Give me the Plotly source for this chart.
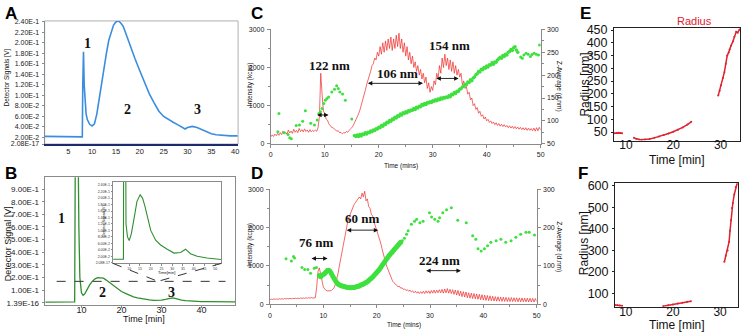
import numpy as np
import plotly.graph_objects as go

W, H = 746, 334
def px(x): return x / W
def py(y): return 1 - y / H

# ---------------- DATA ----------------
# Panel A (detector signal, blue)
A_time = [0.1, 1, 2, 3, 4, 5, 6, 7, 7.95, 8.05, 8.2, 8.35, 8.5, 8.75, 9, 9.5, 10, 10.5, 11, 11.5, 12, 12.5, 13,
          13.5, 14, 14.5, 15, 15.5, 16, 16.5, 17, 18, 19, 20, 21, 22, 23, 24, 25, 26, 27, 28, 29, 29.5, 30,
          31, 32, 33, 34, 35, 36, 37, 38, 39, 40.5]
A_signal = [0.022, 0.022, 0.021, 0.021, 0.021, 0.021, 0.021, 0.021, 0.021, 0.12, 0.183, 0.12, 0.088, 0.065,
            0.054, 0.045, 0.042, 0.046, 0.065, 0.095, 0.125, 0.153, 0.18, 0.205, 0.222, 0.234, 0.24, 0.242,
            0.238, 0.232, 0.22, 0.193, 0.17, 0.147, 0.125, 0.103, 0.086, 0.07, 0.06, 0.054, 0.049, 0.044,
            0.039, 0.036, 0.039, 0.041, 0.039, 0.035, 0.03, 0.027, 0.025, 0.024, 0.023, 0.023, 0.023]
A_ytickvals = [0.0075, 0.02, 0.04, 0.06, 0.08, 0.10, 0.12, 0.14, 0.16, 0.18, 0.20, 0.22, 0.24]
A_yticktext = ["2.08E-17", "2.00E-2", "4.00E-2", "6.00E-2", "8.00E-2", "1.00E-1", "1.20E-1", "1.40E-1",
               "1.60E-1", "1.80E-1", "2.00E-1", "2.20E-1", "2.40E-1"]

# Panel B (detector signal, green)
B_time = [1, 4, 7, 8.3, 8.45, 8.6, 9.2, 9.35, 9.6, 10, 10.4, 10.8, 11.3, 12, 12.7, 13.4, 14.1, 14.8, 15.5,
          16.2, 17, 18, 19, 20, 21, 22, 23, 24, 25, 26, 27, 28, 29, 30, 31, 32, 32.7, 33.4, 34, 35, 36, 37,
          38, 40, 42, 44, 46, 48.4]
B_signal = [0.006, 0.006, 0.007, 0.008, 1.1, 1.1, 1.1, 0.6, 0.2, 0.08, 0.06, 0.07, 0.1, 0.14, 0.17, 0.19,
            0.2, 0.2, 0.195, 0.18, 0.16, 0.135, 0.11, 0.09, 0.075, 0.06, 0.048, 0.04, 0.033, 0.027, 0.023,
            0.02, 0.02, 0.022, 0.028, 0.036, 0.04, 0.036, 0.03, 0.022, 0.017, 0.014, 0.012, 0.01, 0.009,
            0.008, 0.008, 0.008]
B_ytickvals = [0, 0.1, 0.2, 0.3, 0.4, 0.5, 0.6, 0.7, 0.8, 0.9]
B_yticktext = ["1.39E-16", "1.00E-1", "2.00E-1", "3.00E-1", "4.00E-1", "5.00E-1", "6.00E-1", "7.00E-1",
               "8.00E-1", "9.00E-1"]

# Inset of B
I_time = [2.5, 5, 7.3, 7.4, 7.6, 8.4, 8.5, 9.2, 10, 11, 12.3, 13.6, 15.1, 16.2, 17.3, 18.5, 20, 22.3, 24.6,
          27.7, 30.8, 33.9, 36.2, 38.5, 41.6, 46.2, 51.5, 52.8]
I_signal = [0.011, 0.011, 0.011, 0.3, 0.3, 0.3, 0.12, 0.08, 0.069, 0.09, 0.139, 0.19, 0.21, 0.2, 0.175,
            0.145, 0.1, 0.07, 0.055, 0.042, 0.03, 0.032, 0.042, 0.028, 0.02, 0.015, 0.01, 0.01]
I_ytickvals = [0, 0.02, 0.04, 0.06, 0.08, 0.10, 0.12, 0.14, 0.16, 0.18, 0.20, 0.22, 0.24]
I_yticktext = ["2.08E-17", "2.00E-2", "4.00E-2", "6.00E-2", "8.00E-2", "1.00E-1", "1.20E-1", "1.40E-1",
               "1.60E-1", "1.80E-1", "2.00E-1", "2.20E-1", "2.40E-1"]

# Panel C: intensity (kcps) sampled every 0.25 min from 0 to 50
C_intensity = [
    180, 230, 190, 250, 210, 270, 220, 290, 240, 330, 260, 300, 250, 360, 280, 330,
    270, 380, 300, 350, 290, 400, 320, 370, 310, 390, 320, 360, 300, 370, 310, 350,
    320, 360, 330, 420, 700, 1850, 1300, 850, 800, 650, 620, 520, 480, 430, 420, 380,
    370, 330, 340, 290, 300, 260, 290, 280, 320, 300, 350, 380, 420, 470, 540, 600,
    700, 780, 880, 1000, 1100, 1250, 1400, 1550, 1650, 1800, 1900, 2050, 2100, 2250, 2200, 2400,
    2300, 2550, 2350, 2650, 2400, 2700, 2450, 2750, 2500, 2800, 2450, 2750, 2500, 2850, 2550, 2900,
    2500, 2750, 2400, 2650, 2300, 2550, 2200, 2400, 2100, 2300, 2000, 2150, 1900, 2050, 1800, 1950,
    1700, 1850, 1600, 1750, 1450, 1600, 1350, 1500, 1400, 1650, 1550, 1850, 1700, 2050, 1850, 2250,
    2000, 2350, 2050, 2250, 1950, 2200, 1900, 2150, 1850, 2050, 1800, 1950, 1750, 1850, 1550, 1650,
    1450, 1500, 1300, 1350, 1150, 1200, 1000, 1050, 900, 950, 800, 850, 720, 760, 650, 700,
    600, 640, 560, 600, 530, 570, 500, 550, 480, 530, 460, 510, 450, 500, 440, 480,
    420, 470, 410, 460, 400, 450, 390, 440, 380, 430, 370, 420, 360, 420, 350, 410,
    350, 400, 340, 410, 330, 420, 340, 430, 360]
C_time = np.arange(len(C_intensity)) * 0.25

# Panel C: Z-average (d.nm), scattered early points
C_z_early_t = [1.3, 1.5, 2.5, 3.2, 3.5, 3.8, 4.7, 5.3, 5.9, 6.4, 7.4, 8.1, 8.6, 8.9, 9.2, 9.5, 9.8, 10.1,
               10.4, 10.7, 11.3, 11.8, 12.2, 12.5, 12.8, 13.3, 13.8, 15.0]
C_z_early = [76, 116, 74, 70, 63, 61, 90, 91, 99, 122, 95, 91, 102, 116, 120, 127, 138, 145, 149, 152, 163,
             169, 177, 171, 163, 159, 145, 104]
# dense band every 0.25 min starting at 15.5
C_z_dense = [
    68, 66,
    69, 66, 70, 67, 71, 70, 74, 71, 75, 74, 78, 76, 80, 79, 83, 82,
    86, 85, 90, 88, 93, 92, 97, 96, 101, 99, 104, 103, 108, 106, 111, 110,
    115, 113, 118, 116, 120, 118, 122, 121, 124, 123, 127, 125, 130, 128, 132, 131,
    136, 134, 138, 136, 140, 139, 142, 140, 144, 143, 146, 144, 148, 146, 150, 148,
    151, 150, 152, 151, 155, 153, 158, 157, 162, 160, 165, 164, 169, 170, 174, 176,
    180, 179, 185, 184, 190, 188, 194, 196, 201, 203, 208, 207, 213, 212, 217, 215,
    220, 218, 223, 222, 227, 224, 229, 228, 233, 236, 239, 237, 243, 241, 246, 244,
    250, 252, 256, 254, 260, 262, 255, 250]
C_z_dense_t = 15.5 + np.arange(len(C_z_dense)) * 0.25
C_z_late_t = [46.3, 46.6, 46.9, 47.3, 47.7, 48.1, 48.4, 48.8, 49.2, 49.6, 49.8]
C_z_late = [240, 237, 244, 248, 246, 241, 245, 248, 246, 244, 266]

# Panel D: intensity every 0.25 min from 0 to 50
D_intensity = [
    120, 135, 125, 140, 130, 140, 128, 145, 132, 145, 135, 150, 138, 150, 140, 155,
    142, 155, 145, 160, 148, 160, 150, 165, 152, 165, 155, 170, 158, 170, 160, 175,
    162, 175, 170, 450, 850, 950, 780, 600, 450, 400, 360, 350, 340, 350, 360, 390,
    430, 520, 640, 800, 1000, 1200, 1400, 1600, 1800, 1950, 2100, 2250, 2350, 2450, 2500, 2600,
    2650, 2700, 2750, 2800, 2750, 2900, 2800, 2950, 2700, 2750, 2550, 2500, 2350, 2300, 2150, 2050,
    1950, 1850, 1700, 1600, 1450, 1300, 1200, 1050, 950, 850, 750, 650, 600, 560, 520, 490,
    460, 470, 420, 430, 390, 400, 360, 380, 340, 370, 320, 350, 300, 340, 290, 330,
    280, 330, 280, 340, 280, 350, 290, 350, 280, 360, 290, 370, 290, 370, 300, 380,
    300, 390, 290, 400, 300, 410, 290, 390, 280, 380, 260, 370, 240, 360, 220, 340,
    200, 330, 190, 320, 170, 300, 160, 290, 150, 280, 140, 270, 130, 260, 120, 250,
    110, 240, 100, 230, 95, 220, 90, 210, 85, 200, 80, 195, 80, 190, 75, 185,
    75, 180, 70, 175, 70, 175, 70, 170, 70, 170, 65, 165, 65, 165, 65, 160,
    65, 160, 60, 155, 60, 155, 60, 150, 70]
D_time = np.arange(len(D_intensity)) * 0.25

D_z_early_t = [3.0, 4.0, 4.4, 4.6, 6.0, 6.5, 7.1, 7.6, 8.3, 8.7]
D_z_early = [119, 113, 125, 121, 96, 91, 91, 81, 94, 96]
D_z_dense = [
    75, 72, 76,
    78, 80, 84, 88, 89, 86, 80, 74, 68, 62, 57, 53, 51, 49, 48, 47,
    46, 45, 44, 44, 43, 43, 44, 44, 45, 46, 47, 48, 50, 51, 53, 55,
    57, 59, 62, 65, 68, 71, 75, 79, 83, 87, 91, 96, 101, 106, 111, 116,
    121, 126, 130, 134, 138, 142, 146, 150, 154, 158, 162]
D_z_dense_t = 9.25 + np.arange(len(D_z_dense)) * 0.25
D_z_late_t = [24.8, 25.2, 25.6, 25.9, 26.5, 27.1, 27.5, 28.1, 28.7, 29.9, 30.3, 30.9, 31.5, 31.8, 32.4, 33.1,
              34.0, 35.2, 36.8, 38.0, 38.6, 39.0, 39.6, 40.2, 40.8, 41.4, 42.4, 43.3, 44.2, 45.2, 46.1, 47.0,
              48.0, 48.6, 49.6]
D_z_late = [166, 172, 183, 192, 209, 217, 222, 213, 217, 239, 228, 222, 217, 226, 239, 247, 252, 219, 213,
            179, 170, 145, 139, 145, 153, 162, 166, 170, 162, 166, 175, 183, 188, 188, 181]

# Panels E, F: radius
E_time = [7.6, 8.0, 8.4, 8.8, 9.2, None, 11.7, 12.2, 12.8, 13.3, 14, 15, 16, 17, 18, 19, 20, 21, 22, 23, 23.8,
          None, 29.5, 29.8, 30.1, 30.5, 30.8, 31.1, 31.4, 31.7, 31.9, 32.2, 32.6, 32.9, 33.3, 33.6, 34.0]
E_radius = [45, 46, 47, 46, 45, None, 27, 23, 21, 20, 21, 23, 27, 32, 38, 44, 51, 59, 68, 79, 90,
            None, 193, 212, 234, 262, 285, 318, 350, 362, 374, 389, 405, 424, 443, 440, 452]
F_time = [7.7, 8.2, 8.7, 9.2, None, 17.9, 19, 20, 21, 22, 23, 23.8, None, 30.9, 31.2, 31.6, 31.9, 32.1,
          32.3, 32.5, 32.7, 33.0, 33.3, 33.6]
F_radius = [46, 45, 44, 43, None, 41, 45, 49, 53, 57, 61, 64, None, 247, 275, 300, 340, 391, 440, 497, 520,
            560, 595, 611]

# ---------------- FIGURE ----------------
BLUE = "#3b8de0"
DGREEN = "#2f8f2f"
RED = "#ee2a2a"
LGREEN = "#3ee03e"
ERED = "#dd2230"
SANS = "Liberation Sans, Arial, sans-serif"
SERIF = "Liberation Serif, Times New Roman, serif"

fig = go.Figure()
fig.add_trace(go.Scatter(x=A_time, y=A_signal, mode="lines", line=dict(color=BLUE, width=1.6),
                         xaxis="x", yaxis="y"))
fig.add_trace(go.Scatter(x=B_time, y=B_signal, mode="lines", line=dict(color=DGREEN, width=1.3),
                         xaxis="x2", yaxis="y2"))
fig.add_trace(go.Scatter(x=I_time, y=I_signal, mode="lines", line=dict(color=DGREEN, width=1.1),
                         xaxis="x3", yaxis="y3"))
# C
fig.add_trace(go.Scatter(x=C_time, y=C_intensity, mode="lines", line=dict(color=RED, width=0.7),
                         xaxis="x4", yaxis="y4"))
for t, z, s in [(C_z_early_t, C_z_early, 3), (C_z_dense_t, C_z_dense, 3.5), (C_z_late_t, C_z_late, 3)]:
    fig.add_trace(go.Scatter(x=t, y=z, mode="markers", marker=dict(color=LGREEN, size=s, line=dict(width=0)),
                             xaxis="x4", yaxis="y5"))
# D
fig.add_trace(go.Scatter(x=D_time, y=D_intensity, mode="lines", line=dict(color=RED, width=0.7),
                         xaxis="x6", yaxis="y6"))
for t, z, s in [(D_z_early_t, D_z_early, 3), (D_z_dense_t, D_z_dense, 5), (D_z_late_t, D_z_late, 3)]:
    fig.add_trace(go.Scatter(x=t, y=z, mode="markers", marker=dict(color=LGREEN, size=s, line=dict(width=0)),
                             xaxis="x6", yaxis="y7"))
# E, F
fig.add_trace(go.Scatter(x=E_time, y=E_radius, mode="lines+markers", line=dict(color=ERED, width=1.5),
                         marker=dict(color=ERED, size=2), connectgaps=False, xaxis="x8", yaxis="y8"))
fig.add_trace(go.Scatter(x=F_time, y=F_radius, mode="lines+markers", line=dict(color=ERED, width=1.5),
                         marker=dict(color=ERED, size=2), connectgaps=False, xaxis="x9", yaxis="y9"))

GRAY = "#8a8a8a"
def ax(dom, rng, **kw):
    d = dict(domain=dom, range=rng, showgrid=False, zeroline=False, showline=True, linecolor=GRAY,
             linewidth=1, ticks="outside", ticklen=3, tickcolor=GRAY, ticklabelstandoff=1,
             tickfont=dict(family=SANS, size=7, color="#222"))
    d.update(kw)
    return d

A_x = [px(43), px(238)]; A_y = [py(143), py(17.3)]
B_x = [px(43), px(235)]; B_y = [py(307.7), py(177)]
I_x = [px(112), px(221)]; I_y = [py(265), py(181.7)]
C_x = [px(271), px(543)]; C_y = [py(142.7), py(26)]
D_x = [px(270.2), px(539)]; D_y = [py(306.7), py(189.3)]
E_x = [px(617), px(744)]; E_y = [py(139.5), py(24.3)]
F_x = [px(618), px(742)]; F_y = [py(309.3), py(183.3)]

B_xr = [0.8, 48.4]; B_yr = [-0.019, 0.993]

BIGTICK = dict(family=SANS, size=12.5, color="#111")
XTICK = dict(family=SANS, size=12, color="#111")
fig.update_layout(
    width=W, height=H, margin=dict(l=0, r=0, t=0, b=0), showlegend=False,
    paper_bgcolor="white", plot_bgcolor="rgba(0,0,0,0)",
    xaxis=ax(A_x, [0.06, 40.6], anchor="y", tickvals=[5, 10, 15, 20, 25, 30, 35, 40], linecolor="#1c2a6e",
             linewidth=1.6, ticks="", ticklabelstandoff=-1, tickfont=dict(family=SANS, size=7.5, color="#222")),
    yaxis=ax(A_y, [0.0075, 0.2419], anchor="x", tickvals=A_ytickvals, ticktext=A_yticktext, ticklen=2,
             tickfont=dict(family=SANS, size=7, color="#222")),
    xaxis2=ax(B_x, B_xr, anchor="y2", tickvals=[10, 20, 30, 40], mirror=True, ticklen=2, ticklabelstandoff=-6,
              tickfont=dict(family=SANS, size=9, color="#222")),
    yaxis2=ax(B_y, B_yr, anchor="x2", tickvals=B_ytickvals, ticktext=B_yticktext, mirror=True, ticklen=2,
              tickfont=dict(family=SANS, size=8, color="#222")),
    xaxis3=ax(I_x, [2.5, 52.8], anchor="y3", tickvals=[10, 15, 20, 25, 30, 35, 40, 45, 50], mirror=True,
              ticklen=1.5, ticklabelstandoff=0, tickfont=dict(family=SANS, size=3.5, color="#333")),
    yaxis3=ax(I_y, [-0.002, 0.25], anchor="x3", tickvals=I_ytickvals, ticktext=I_yticktext, mirror=True,
              ticklen=1.5, ticklabelstandoff=0, tickfont=dict(family=SANS, size=3.5, color="#333")),
    xaxis4=ax(C_x, [0, 50], anchor="y4", tickvals=[0, 10, 20, 30, 40, 50],
              minor=dict(ticks="outside", dtick=5, ticklen=2, tickcolor=GRAY)),
    yaxis4=ax(C_y, [0, 3000], anchor="x4", tickvals=[0, 1000, 2000, 3000],
              minor=dict(ticks="outside", dtick=500, ticklen=2, tickcolor=GRAY)),
    yaxis5=ax(C_y, [50, 300], anchor="x4", overlaying="y4", side="right", tickvals=[50, 100, 150, 200, 250, 300],
              minor=dict(ticks="outside", dtick=25, ticklen=2, tickcolor=GRAY)),
    xaxis6=ax(D_x, [0, 50], anchor="y6", tickvals=[0, 10, 20, 30, 40, 50],
              minor=dict(ticks="outside", dtick=5, ticklen=2, tickcolor=GRAY)),
    yaxis6=ax(D_y, [0, 3000], anchor="x6", tickvals=[0, 1000, 2000, 3000],
              minor=dict(ticks="outside", dtick=500, ticklen=2, tickcolor=GRAY)),
    yaxis7=ax(D_y, [0, 300], anchor="x6", overlaying="y6", side="right", tickvals=[0, 100, 200, 300],
              minor=dict(ticks="outside", dtick=50, ticklen=2, tickcolor=GRAY)),
    xaxis8=ax(E_x, [7.5, 34.1], anchor="y8", tickvals=[10, 20, 30], mirror=True, linecolor="#222",
              ticks="", ticklabelstandoff=-7, tickfont=XTICK),
    yaxis8=ax(E_y, [16.4, 459], anchor="x8", tickvals=[50, 100, 150, 200, 250, 300, 350, 400, 450], mirror=True,
              linecolor="#222", tickcolor="#222", ticklen=2, tickfont=BIGTICK),
    xaxis9=ax(F_x, [7.7, 33.8], anchor="y9", tickvals=[10, 20, 30], mirror=True, linecolor="#222",
              ticks="", ticklabelstandoff=-6, tickfont=XTICK),
    yaxis9=ax(F_y, [38, 611], anchor="x9", tickvals=[100, 200, 300, 400, 500, 600], mirror=True,
              linecolor="#222", tickcolor="#222", ticklen=2, tickfont=BIGTICK),
)

shapes = []
# frame around A
shapes.append(dict(type="rect", xref="paper", yref="paper", x0=A_x[0], x1=A_x[1], y0=A_y[0], y1=A_y[1],
                   line=dict(color="#b0b0b0", width=1), layer="below"))
# inset background
shapes.append(dict(type="rect", xref="paper", yref="paper", x0=I_x[0], x1=I_x[1], y0=I_y[0], y1=I_y[1],
                   fillcolor="white", line=dict(width=0), layer="below"))
# dashed level line in B and zoom lines to inset corners
B_level = 0.17
shapes.append(dict(type="line", xref="x2", yref="y2", x0=3.8, x1=46, y0=B_level, y1=B_level,
                   line=dict(color="#333", width=1, dash="dash")))
def b2paper(t, v):
    fx = B_x[0] + (t - B_xr[0]) / (B_xr[1] - B_xr[0]) * (B_x[1] - B_x[0])
    fy = B_y[0] + (v - B_yr[0]) / (B_yr[1] - B_yr[0]) * (B_y[1] - B_y[0])
    return fx, fy
cx, cy = b2paper(29.1, B_level)
for cornx in (I_x[0], I_x[1]):
    shapes.append(dict(type="line", xref="paper", yref="paper", x0=cornx, y0=I_y[0], x1=cx, y1=cy,
                       line=dict(color="#333", width=1, dash="dash")))
fig.update_layout(shapes=shapes)

ann = []
def txt(x, y, s, size, xref="paper", yref="paper", family=SANS, bold=False, color="#111", angle=0):
    ann.append(dict(x=x, y=y, xref=xref, yref=yref, text=("<b>%s</b>" % s) if bold else s, showarrow=False,
                    font=dict(family=family, size=size, color=color), textangle=angle,
                    xanchor="center", yanchor="middle"))
def darrow(x0, x1, y, xr, yr):
    ann.append(dict(x=x1, y=y, ax=x0, ay=y, xref=xr, yref=yr, axref=xr, ayref=yr, text="", showarrow=True,
                    arrowhead=2, startarrowhead=2, arrowside="end+start", arrowsize=1, startarrowsize=1,
                    arrowwidth=0.9, arrowcolor="#111"))

# panel letters
for L, x, y in [("A", 9, 10), ("B", 9, 173), ("C", 257, 10), ("D", 257, 173), ("E", 588, 10), ("F", 586, 173)]:
    txt(px(x), py(y), L, 17, bold=True, color="#000")
# axis titles
txt(px(5), py(75), "Detector Signals [V]", 6.5, angle=-90)
txt(px(5.5), py(245), "Detector Signal [V]", 9, angle=-90)
txt(px(143), py(322), "Time [min]", 9)
txt(px(103), py(222), "Detector Signals [V]", 3.5, angle=-90)
txt(px(166), py(274), "Time[min]", 4)
txt(px(250), py(82), "Intensity (kcps)", 6.5, angle=-90)
txt(px(250), py(246), "Intensity (kcps)", 6.5, angle=-90)
txt(px(402), py(165), "Time (mins)", 6.5)
txt(px(405), py(328), "Time (mins)", 6.5)
txt(px(561), py(84), "Z-Average (d.nm)", 6.5, angle=90)
txt(px(562), py(248), "Z-Average (d.nm)", 6.5, angle=90)
txt(px(698), py(17), "Radius", 11, color=ERED)
txt(px(588), py(82), "Radius [nm]", 12, angle=-90)
txt(px(587), py(244), "Radius [nm]", 12, angle=-90)
txt(px(680), py(159), "Time [min]", 12)
txt(px(680), py(327.5), "Time [min]", 12)
# peak numbers
txt(9.0, 0.198, "1", 14, xref="x", yref="y", family=SERIF, bold=True)
txt(17.5, 0.073, "2", 14, xref="x", yref="y", family=SERIF, bold=True)
txt(32.1, 0.074, "3", 14, xref="x", yref="y", family=SERIF, bold=True)
txt(5.1, 0.666, "1", 14, xref="x2", yref="y2", family=SERIF, bold=True)
txt(15.2, 0.079, "2", 14, xref="x2", yref="y2", family=SERIF, bold=True)
txt(32.4, 0.079, "3", 14, xref="x2", yref="y2", family=SERIF, bold=True)
# C labels
txt(10.9, 2049, "122 nm", 13, xref="x4", yref="y4", family=SERIF, bold=True)
txt(23.4, 1843, "106 nm", 13, xref="x4", yref="y4", family=SERIF, bold=True)
txt(33.1, 2589, "154 nm", 13, xref="x4", yref="y4", family=SERIF, bold=True)
darrow(8.3, 10.7, 754, "x4", "y4")
darrow(17.7, 28.2, 1585, "x4", "y4")
darrow(30.4, 34.8, 1714, "x4", "y4")
# D labels
txt(8.7, 1604, "76 nm", 13, xref="x6", yref="y6", family=SERIF, bold=True)
txt(17.3, 2243, "60 nm", 13, xref="x6", yref="y6", family=SERIF, bold=True)
txt(31.8, 1151, "224 nm", 13, xref="x6", yref="y6", family=SERIF, bold=True)
darrow(7.5, 10.8, 1194, "x6", "y6")
darrow(14.1, 20.3, 1935, "x6", "y6")
darrow(29.0, 35.8, 878, "x6", "y6")
fig.update_layout(annotations=ann)

fig.write_html("out.html", config={"displayModeBar": False},
               post_script="document.body.style.margin='0px';document.body.style.overflow='hidden';")
